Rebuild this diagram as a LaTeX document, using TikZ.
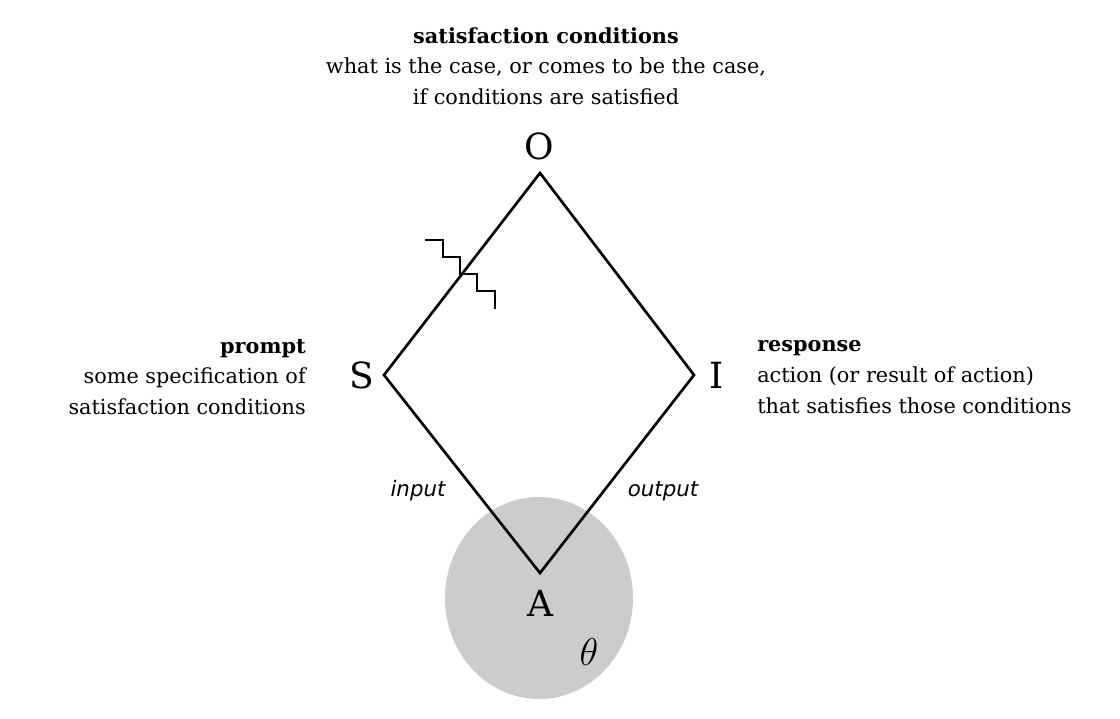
\RequirePackage{fix-cm}
\documentclass[tikz,border=0pt]{standalone}
\usepackage{fontspec}
\setmainfont{DejaVu Serif}
\newfontfamily\dvsans{DejaVu Sans}
\usetikzlibrary{calc}
\begin{document}
\begin{tikzpicture}[x=0.75pt,y=-0.75pt,
  edge/.style={line width=2pt, line join=miter},
  zig/.style={line width=1.4pt},
  big/.style={font=\fontsize{27}{30}\selectfont, inner sep=0pt},
  desc/.style={font=\fontsize{15.6}{23}\selectfont, inner sep=0pt},
  lab/.style={font=\dvsans\itshape\fontsize{16}{18}\selectfont, inner sep=0pt}]
\useasboundingbox (0,0) rectangle (1120,718);
% parameter ellipse
\fill[fill={rgb,255:red,204;green,204;blue,204}] (539,598) ellipse [x radius=94, y radius=101];
% vertices
\coordinate (O) at (540,173);
\coordinate (S) at (384,375);
\coordinate (I) at (694,375);
\coordinate (A) at (540,573);
\draw[edge] (O) -- (S) -- (A) -- (I) -- cycle;
% zigzag mark
\coordinate (z) at (460,274);
\draw[zig] ($(z)+(-35,-34)$) -- ++(18,0) -- ++(0,17) -- ++(17,0) -- ++(0,17)
  -- ++(17,0) -- ++(0,17) -- ++(18,0) -- ++(0,18);
% vertex labels
\node[big] (lO) at (539,146) {$\mathrm{O}$};
\node[big] (lS) at (362,375) {$\mathrm{S}$};
\node[big] (lI) at (717,375) {$\mathrm{I}$};
\node[big] (lA) at (540,603) {$\mathrm{A}$};
\node[font=\fontsize{29}{32}\selectfont, inner sep=0pt] (th) at (589,652) {$\theta$};
% descriptions
\node[desc, align=center] (tO) at (546,66) {\textbf{satisfaction conditions}\\what is the case, or comes to be the case,\\if conditions are satisfied};
\node[desc, align=right, anchor=east] (tS) at (306,377) {\textbf{prompt}\\some specification of\\satisfaction conditions};
\node[desc, align=left, anchor=west] (tI) at (757,377) {\textbf{response}\\action (or result of action)\\that satisfies those conditions};
% edge labels
\node[lab] (in) at (418,491) {input};
\node[lab] (out) at (663,491) {output};
\end{tikzpicture}
\end{document}
